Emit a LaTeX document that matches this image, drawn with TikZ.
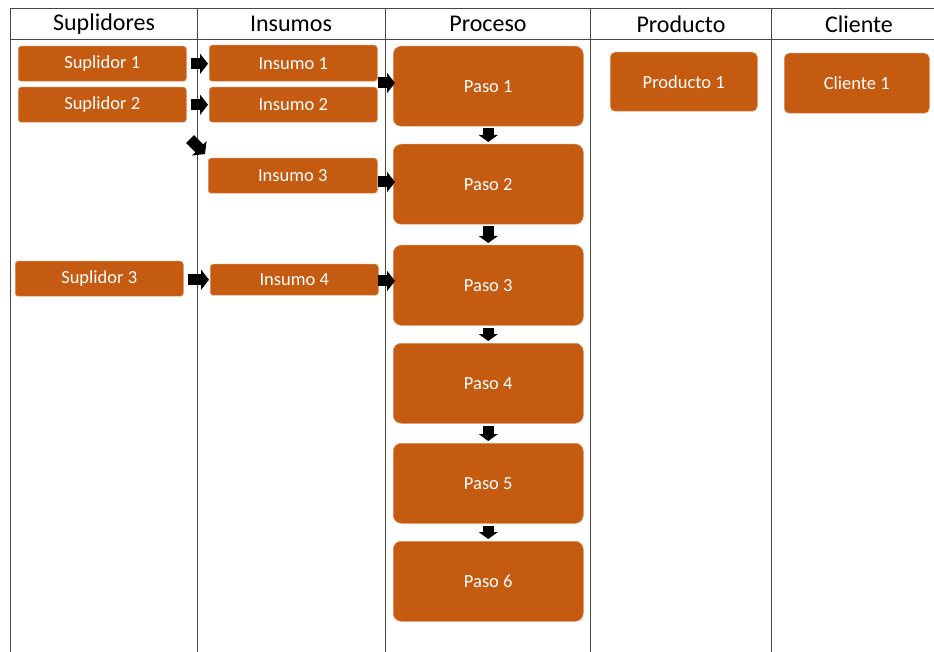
\documentclass[tikz,border=0pt]{standalone}
\usepackage{fontspec}
\setmainfont{Carlito}
\usetikzlibrary{arrows.meta}
\definecolor{boxfill}{RGB}{197,90,17}
\definecolor{boxrim}{RGB}{222,140,90}
\definecolor{gridc}{RGB}{70,70,70}
\begin{document}
\begin{tikzpicture}[x=1pt,y=-1pt,
  grid/.style={draw=gridc,line width=1pt},
  head/.style={font=\fontsize{24}{28}\selectfont,text=black},
  sbox/.style={draw=boxrim,line width=0.5pt,fill=boxfill,rounded corners=3pt,anchor=north west,inner sep=0pt,
    text=white,font=\fontsize{18.5}{21}\selectfont,minimum width=168pt,minimum height=35pt},
  pbox/.style={sbox,rounded corners=8pt,minimum width=190pt,minimum height=80pt},
  barrow/.style={draw=black,line width=11pt,-{Triangle[length=8pt,width=20pt]}},
  varrow/.style={draw=black,line width=11pt,-{Triangle[length=7pt,width=19pt]},shorten <=2pt,shorten >=2pt}]
\useasboundingbox (0,0) rectangle (934,652);
% grid
\draw[grid] (10,9) -- (934,9);
\draw[grid] (10,40) -- (934,40);
\foreach \x in {10,197,385,590,771}{\draw[grid] (\x,9) -- (\x,652);}
% headers
\node[head] (h1) at (104,24) {Suplidores};
\node[head] (h2) at (291,24) {Insumos};
\node[head] (h3) at (488,24) {Proceso};
\node[head] (h4) at (681,24) {Producto};
\node[head] (h5) at (859,24) {Cliente};
% suppliers
\node[sbox] (s1) at (18,46) {Suplidor 1};
\node[sbox] (s2) at (18,87) {Suplidor 2};
\node[sbox] (s3) at (15,261) {Suplidor 3};
% inputs
\node[sbox,minimum height=36pt] (i1) at (209,45) {Insumo 1};
\node[sbox] (i2) at (209,87) {Insumo 2};
\node[sbox,minimum width=169pt] (i3) at (208,158) {Insumo 3};
\node[sbox,minimum height=31pt] (i4) at (210,264) {Insumo 4};
% process
\node[pbox] (p1) at (393,46) {Paso 1};
\node[pbox] (p2) at (393,144) {Paso 2};
\node[pbox] (p3) at (393,245) {Paso 3};
\node[pbox] (p4) at (393,343) {Paso 4};
\node[pbox] (p5) at (393,443) {Paso 5};
\node[pbox] (p6) at (393,541) {Paso 6};
% product, client
\node[sbox,rounded corners=5pt,minimum width=147pt,minimum height=59pt] (pr1) at (610,52) {Producto 1};
\node[sbox,rounded corners=5pt,minimum width=145pt,minimum height=60pt] (c1) at (784,53) {Cliente 1};
% arrows supplier -> input
\draw[barrow,shorten <=4pt,shorten >=1pt] (s1.east) -- (i1.west |- s1.east);
\draw[barrow,shorten <=4pt,shorten >=1pt] (s2.east) -- (i2.west |- s2.east);
\draw[barrow,shorten <=4pt,shorten >=1pt] (s3.east |- i4.west) -- (i4.west);
\coordinate (d1) at (190,139);
\coordinate (d2) at (205,154);
\draw[barrow] (d1) -- (d2);
% arrows input -> process
\coordinate (a1) at (378,83);
\coordinate (a2) at (378,182);
\coordinate (a3) at (378,281);
\draw[barrow,shorten >=-2pt] (a1) -- (p1.west |- a1);
\draw[barrow,shorten >=-2pt] (a2) -- (p2.west |- a2);
\draw[barrow,shorten >=-2pt] (a3) -- (p3.west |- a3);
% process chain
\draw[varrow] (p1) -- (p2);
\draw[varrow] (p2) -- (p3);
\draw[varrow] (p3) -- (p4);
\draw[varrow] (p4) -- (p5);
\draw[varrow] (p5) -- (p6);
\end{tikzpicture}
\end{document}
